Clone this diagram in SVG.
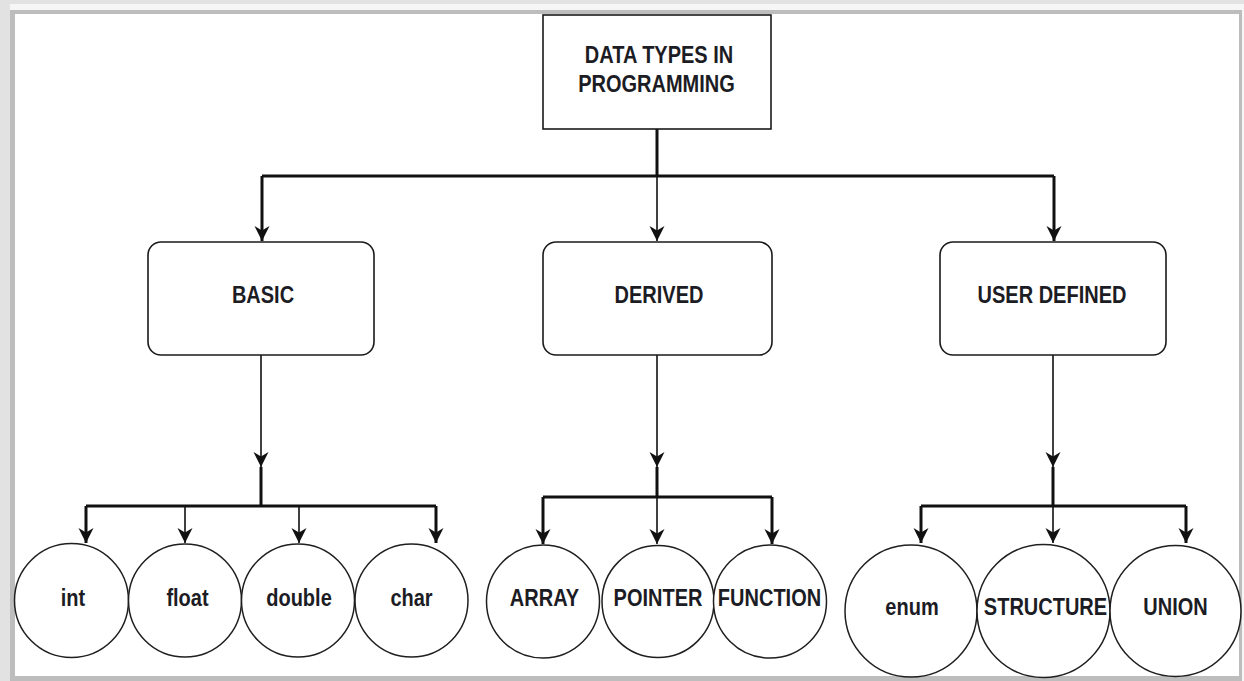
<svg xmlns="http://www.w3.org/2000/svg" width="1244" height="681" viewBox="0 0 1244 681">
<style>
.box{fill:#fff;stroke:#1a1a1a;stroke-width:1.6}
.circ{fill:#fff;stroke:#1f1f1f;stroke-width:1.5}
.lbl{font-family:"Liberation Sans",Arial,sans-serif;font-weight:bold;font-size:20px;fill:#1c1c24;text-anchor:middle}
.thick{fill:none;stroke:#111;stroke-width:3}
.thin{fill:none;stroke:#111;stroke-width:1.6}
</style>
<defs>
<marker id="arr" markerUnits="userSpaceOnUse" markerWidth="18" markerHeight="20" viewBox="-16 -10 18 20" refX="0" refY="0" orient="auto">
<path d="M0,0 L-15,-7.5 L-10.5,0 L-15,7.5 Z" fill="#111"/>
</marker>
</defs>
<rect x="0" y="0" width="1244" height="681" fill="#e2e2e2"/>
<rect x="10" y="4" width="1234" height="677" fill="#f6f6f6"/>
<rect x="10" y="10" width="1232" height="671" fill="#bdbdbd"/>
<rect x="15" y="14" width="1224" height="662" fill="#ffffff"/>

<g id="connectors">
<path class="thick" d="M657,129 V176"/>
<path class="thick" d="M262,176 H1054"/>
<path class="thick" d="M262,176 V241" marker-end="url(#arr)"/>
<path class="thick" d="M1054,176 V241" marker-end="url(#arr)"/>
<path class="thin" d="M657,176 V241" marker-end="url(#arr)"/>

<path class="thin" d="M261,355 V467" marker-end="url(#arr)"/>
<path class="thick" d="M261,467 V506 M86,506 H436"/>
<path class="thick" d="M86,506 V543" marker-end="url(#arr)"/>
<path class="thin" d="M185,506 V543" marker-end="url(#arr)"/>
<path class="thin" d="M299,506 V543" marker-end="url(#arr)"/>
<path class="thick" d="M436,506 V543" marker-end="url(#arr)"/>

<path class="thin" d="M657,355 V467" marker-end="url(#arr)"/>
<path class="thick" d="M657,467 V497 M543,497 H772"/>
<path class="thick" d="M543,497 V544" marker-end="url(#arr)"/>
<path class="thin" d="M657,497 V544" marker-end="url(#arr)"/>
<path class="thick" d="M772,497 V544" marker-end="url(#arr)"/>

<path class="thin" d="M1053,355 V467" marker-end="url(#arr)"/>
<path class="thick" d="M1053,467 V506 M921,506 H1186"/>
<path class="thick" d="M921,506 V543" marker-end="url(#arr)"/>
<path class="thin" d="M1053,506 V543" marker-end="url(#arr)"/>
<path class="thick" d="M1186,506 V543" marker-end="url(#arr)"/>
</g>

<g id="root">
<rect class="box" x="543" y="15" width="228" height="114" stroke-width="2"/>
<text class="lbl" transform="translate(659,63) scale(1,1.15)">DATA TYPES IN</text>
<text class="lbl" transform="translate(656.5,92) scale(1,1.15)">PROGRAMMING</text>
</g>

<g id="basic">
<rect class="box" x="148" y="242" width="226" height="113" rx="13"/>
<text class="lbl" transform="translate(263,303) scale(1,1.15)">BASIC</text>
</g>
<g id="derived">
<rect class="box" x="543" y="242" width="229" height="113" rx="13"/>
<text class="lbl" transform="translate(659,303) scale(1,1.15)">DERIVED</text>
</g>
<g id="userdefined">
<rect class="box" x="940" y="242" width="226" height="113" rx="13"/>
<text class="lbl" transform="translate(1052,303) scale(1,1.15)">USER DEFINED</text>
</g>

<g id="int"><circle class="circ" cx="71.5" cy="600.5" r="57"/><text class="lbl" transform="translate(73,606) scale(1,1.15)">int</text></g>
<g id="float"><circle class="circ" cx="185" cy="600.5" r="56.5"/><text class="lbl" transform="translate(187.5,606) scale(1,1.15)">float</text></g>
<g id="double"><circle class="circ" cx="298" cy="600.5" r="56.5"/><text class="lbl" transform="translate(299,606) scale(1,1.15)">double</text></g>
<g id="char"><circle class="circ" cx="411.5" cy="600.5" r="56.5"/><text class="lbl" transform="translate(411.5,606) scale(1,1.15)">char</text></g>

<g id="array"><circle class="circ" cx="543" cy="601.5" r="56.5"/><text class="lbl" transform="translate(544.5,606) scale(1,1.15)">ARRAY</text></g>
<g id="pointer"><circle class="circ" cx="658" cy="601.5" r="56"/><text class="lbl" transform="translate(658,606) scale(1,1.15)">POINTER</text></g>
<g id="function"><circle class="circ" cx="770" cy="601.5" r="56.5"/><text class="lbl" transform="translate(769.5,606) scale(1,1.15)">FUNCTION</text></g>

<g id="enum"><circle class="circ" cx="911" cy="611" r="66"/><text class="lbl" transform="translate(912,615) scale(1,1.15)">enum</text></g>
<g id="structure"><circle class="circ" cx="1043.5" cy="611" r="66.5"/><text class="lbl" transform="translate(1045.5,615) scale(1,1.15)">STRUCTURE</text></g>
<g id="union"><circle class="circ" cx="1175.5" cy="611" r="65.5"/><text class="lbl" transform="translate(1175.5,615) scale(1,1.15)">UNION</text></g>
</svg>
